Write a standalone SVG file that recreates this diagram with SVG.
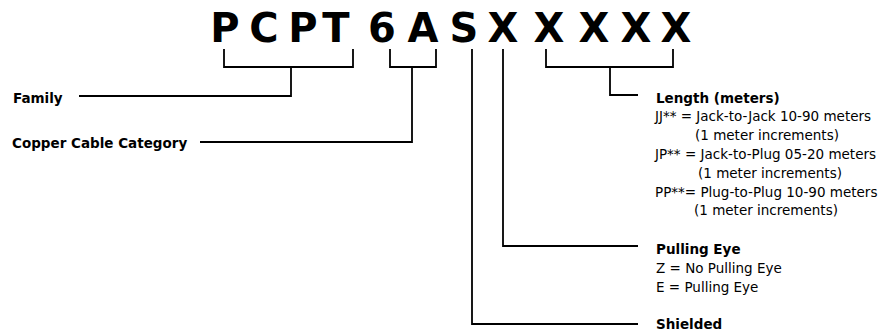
<svg xmlns="http://www.w3.org/2000/svg" width="885" height="331" viewBox="0 0 885 331">
<style>
.code{font-family:"DejaVu Sans",sans-serif;font-weight:bold;font-size:40px;fill:#000;text-anchor:middle}
.t{font-family:"DejaVu Sans",sans-serif;font-size:13.5px;fill:#000}
.b{font-weight:bold}
.ln{fill:none;stroke:#000;stroke-width:1.8}
</style>
<rect width="885" height="331" fill="#fff"/>
<g id="code">
<text class="code" x="225" y="42">P</text>
<text class="code" x="264" y="42">C</text>
<text class="code" x="303" y="42">P</text>
<text class="code" x="336" y="42">T</text>
<text class="code" x="382" y="42">6</text>
<text class="code" x="423" y="42">A</text>
<text class="code" x="464" y="42">S</text>
<text class="code" x="503" y="42">X</text>
<text class="code" x="549" y="42">X</text>
<text class="code" x="594" y="42">X</text>
<text class="code" x="636" y="42">X</text>
<text class="code" x="676" y="42">X</text>
</g>
<g id="connectors">
<path class="ln" d="M224,49 V67 H353 V49 M291,67 V96 H79"/>
<path class="ln" d="M390,49 V67 H436 V49 M412,67 V142 H200"/>
<path class="ln" d="M546,49 V67 H673 V49 M610,67 V95 H638"/>
<path class="ln" d="M503,49 V246 H638"/>
<path class="ln" d="M472,49 V324 H638"/>
</g>
<g id="family"><text class="t b" x="13" y="103">Family</text></g>
<g id="category"><text class="t b" x="12" y="148">Copper Cable Category</text></g>
<g id="length">
<text class="t b" x="656" y="103">Length (meters)</text>
<text class="t" x="655" y="121">JJ** = Jack-to-Jack 10-90 meters</text>
<text class="t" x="695" y="140">(1 meter increments)</text>
<text class="t" x="655" y="159">JP** = Jack-to-Plug 05-20 meters</text>
<text class="t" x="698" y="178">(1 meter increments)</text>
<text class="t" x="655" y="197">PP**= Plug-to-Plug 10-90 meters</text>
<text class="t" x="694" y="215">(1 meter increments)</text>
</g>
<g id="pulling">
<text class="t b" x="656" y="254">Pulling Eye</text>
<text class="t" x="656" y="273">Z = No Pulling Eye</text>
<text class="t" x="656" y="292">E = Pulling Eye</text>
</g>
<g id="shielded"><text class="t b" x="656" y="329">Shielded</text></g>
</svg>
